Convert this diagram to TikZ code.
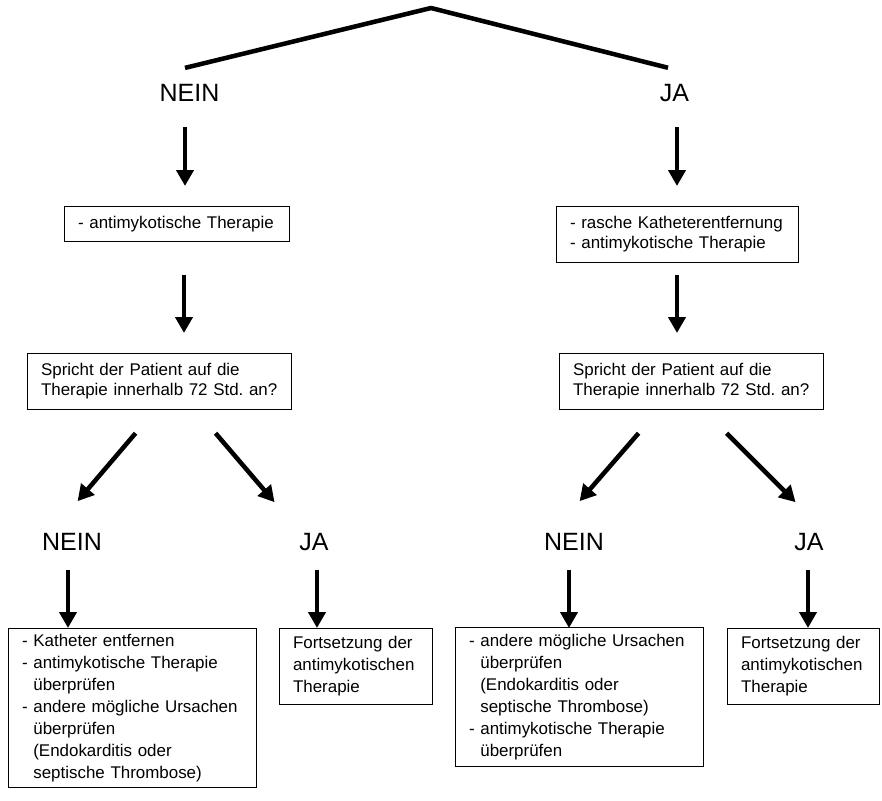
\documentclass[tikz,border=0pt]{standalone}
\usepackage{fontspec}
\setmainfont{Liberation Sans}
\usetikzlibrary{arrows.meta,calc}
\frenchspacing
\tikzset{every picture/.style={line width=0.75pt}}
\tikzset{
  stepbox/.style={draw, line width=0.9pt, anchor=north west, inner xsep=10.1pt, inner ysep=0pt, align=left, font=\fontsize{12.7}{16.5}\selectfont},
  topbox/.style={stepbox, font=\fontsize{12.7}{15}\selectfont},
  answer/.style={inner sep=0pt, font=\fontsize{18.75}{22}\selectfont},
  thickarrow/.style={line width=3.4pt, -{Triangle[width=12.75pt,length=12pt]}},
  branch/.style={line width=3.4pt, line join=round}
}
\newcommand{\contd}{\phantom{- }}

\begin{document}
\begin{tikzpicture}[x=0.75pt,y=0.75pt,yscale=-1,xscale=1]
\useasboundingbox (0,0) rectangle (882,800);

% answers
\node[answer] (nein) at (189.5,93) {NEIN};
\node[answer] (ja) at (674.5,93) {JA};
\node[answer] (neinL) at (72,542) {NEIN};
\node[answer] (jaL) at (314,542) {JA};
\node[answer] (neinR) at (574,542) {NEIN};
\node[answer] (jaR) at (809,542) {JA};

% first step
\node[topbox, text width=148.5pt, minimum height=26.25pt] (therapieL) at (64,206) {- antimykotische Therapie};
\node[topbox, text width=161.25pt, minimum height=42pt] (therapieR) at (556,206) {- rasche Katheterentfernung\\- antimykotische Therapie};

% question
\node[topbox, text width=177.75pt, minimum height=42pt] (frageL) at (27,353) {Spricht der Patient auf die\\\mbox{Therapie innerhalb 72 Std. an?}};
\node[topbox, text width=177.75pt, minimum height=42pt] (frageR) at (559,353) {Spricht der Patient auf die\\\mbox{Therapie innerhalb 72 Std. an?}};

% outcome
\node[stepbox, text width=165.75pt, minimum height=119.25pt] (massnL) at (8,628) {- Katheter entfernen\\- antimykotische Therapie\\\contd überprüfen\\- andere mögliche Ursachen\\\contd überprüfen\\\contd (Endokarditis oder\\\contd septische Thrombose)};
\node[stepbox, text width=94.5pt, minimum height=57pt] (fortL) at (279,628) {Fortsetzung der\\antimykotischen\\Therapie};
\node[stepbox, text width=165.75pt, minimum height=104.25pt] (massnR) at (455,627) {- andere mögliche Ursachen\\\contd überprüfen\\\contd (Endokarditis oder\\\contd septische Thrombose)\\- antimykotische Therapie\\\contd überprüfen};
\node[stepbox, text width=93.75pt, minimum height=57pt] (fortR) at (727,628) {Fortsetzung der\\antimykotischen\\Therapie};

% branch at the top
\coordinate (top) at (431,8);
\draw[branch] ($(nein.north)+(-4.5,-16)$) -- (top) -- ($(ja.north)+(-6.5,-16)$);

% arrows
\draw[thickarrow] ($(nein |- therapieL.north)+(-4.5,-79)$) -- ($(nein |- therapieL.north)+(-4.5,-20)$);
\draw[thickarrow] ($(ja |- therapieR.north)+(2.5,-79)$) -- ($(ja |- therapieR.north)+(2.5,-20)$);
\draw[thickarrow] ($(nein |- frageL.north)+(-5.5,-78)$) -- ($(nein |- frageL.north)+(-5.5,-20)$);
\draw[thickarrow] ($(ja |- frageR.north)+(2.5,-78)$) -- ($(ja |- frageR.north)+(2.5,-20)$);
\draw[thickarrow] ($(frageL.south)+(-24,23)$) -- ($(frageL.south)+(-82,91)$);
\draw[thickarrow] ($(frageL.south)+(56,23)$) -- ($(frageL.south)+(115,92)$);
\draw[thickarrow] ($(frageR.south)+(-53,23)$) -- ($(frageR.south)+(-112,91)$);
\draw[thickarrow] ($(frageR.south)+(35,23)$) -- ($(frageR.south)+(104,92)$);
\draw[thickarrow] ($(neinL |- massnL.north)+(-4,-58)$) -- ($(neinL |- massnL.north)+(-4,0)$);
\draw[thickarrow] ($(jaL |- fortL.north)+(3,-58)$) -- ($(jaL |- fortL.north)+(3,0)$);
\draw[thickarrow] ($(neinR |- massnR.north)+(-5,-57)$) -- ($(neinR |- massnR.north)+(-5,1)$);
\draw[thickarrow] ($(jaR |- fortR.north)+(-1,-58)$) -- ($(jaR |- fortR.north)+(-1,0)$);

\end{tikzpicture}
\end{document}
